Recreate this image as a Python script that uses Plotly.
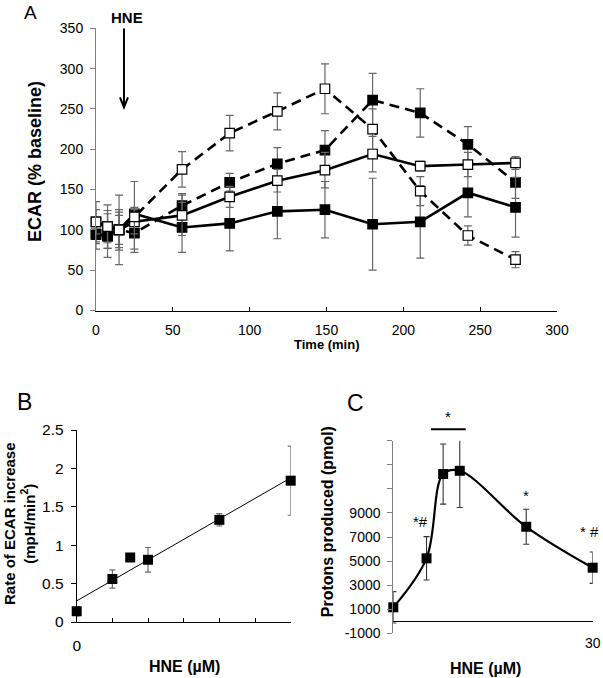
import numpy as np
import plotly.graph_objects as go

W, H = 603, 678
FONT = "Liberation Sans, Arial, sans-serif"

# ---------------- Panel A data ----------------
time_min = [0, 7.5, 15, 25, 56, 87, 118, 149, 180, 211, 242, 273]
a_filled_solid = [94, 93, 100, 120, 103, 108, 123, 125, 107, 110, 146, 128]
a_filled_solid_err = [18, 27, 25, 8, 31, 34, 34, 35, 57, 45, 30, 37]
a_open_solid = [110, 104, 100, 110, 118, 141, 161, 174, 194, 179, 181, 183]
a_open_solid_err = [15, 20, 22, 15, 25, 13, 14, 22, 22, 6, 15, 8]
a_filled_dashed = [95, 92, 100, 96, 130, 159, 182, 199, 261, 245, 206, 159]
a_filled_dashed_err = [12, 15, 18, 20, 15, 11, 20, 24, 33, 30, 22, 20]
a_open_dashed = [110, 104, 100, 116, 175, 220, 247, 275, 225, 148, 93, 63]
a_open_dashed_err = [25, 27, 43, 44, 22, 22, 23, 31, 25, 18, 12, 10]
a_xticks = [0, 50, 100, 150, 200, 250, 300]
a_yticks = [0, 50, 100, 150, 200, 250, 300, 350]
hne_time = 18.2

# ---------------- Panel B data ----------------
b_hne = [0, 5, 7.5, 10, 20, 30]
b_rate = [0.14, 0.56, 0.84, 0.81, 1.33, 1.84]
b_rate_err = [0.06, 0.12, 0, 0.16, 0.08, 0.45]
b_xticks = [0, 5, 10, 15, 20, 25, 30]
b_xticktext = ["0", " ", " ", " ", " ", " ", " "]
b_yticks = [0, 0.5, 1, 1.5, 2, 2.5]
b_yticktext = ["0", "0.5", "1", "1.5", "2", "2.5"]

# ---------------- Panel C data ----------------
c_hne = [0, 5, 7.5, 10, 20, 30]
c_protons = [1160, 5230, 12230, 12500, 7850, 4450]
c_protons_err = [1300, 1800, 2500, 3050, 1450, 1300]
c_yticks = [-1000, 1000, 3000, 5000, 7000, 9000, 11000, 13000, 15000]
c_yticktext = ["-1000", "1000", "3000", "5000", "7000", "9000", " ", " ", " "]
c_xticks = [30]
c_xticktext = ["30"]


def px(x):
    return x / W


def py(y):
    return 1 - y / H


fig = go.Figure()

# Panel A traces
ERR_A = "#666666"


def a_trace(vals, errs, filled, dashed):
    return go.Scatter(
        x=time_min, y=vals, mode="lines+markers", xaxis="x", yaxis="y",
        line=dict(color="black", width=2.6, dash="10px,6px" if dashed else "solid"),
        marker=dict(symbol="square", size=9.5,
                    color="black" if filled else "white",
                    line=dict(color="black", width=1.2)),
        error_y=dict(type="data", array=errs, visible=True, color=ERR_A,
                     thickness=1.2, width=4),
        cliponaxis=False, showlegend=False,
    )


fig.add_trace(a_trace(a_filled_dashed, a_filled_dashed_err, True, True))
fig.add_trace(a_trace(a_filled_solid, a_filled_solid_err, True, False))
fig.add_trace(a_trace(a_open_solid, a_open_solid_err, False, False))
fig.add_trace(a_trace(a_open_dashed, a_open_dashed_err, False, True))

# Panel B traces
slope, intercept = np.polyfit(b_hne, b_rate, 1)
trend_x = [min(b_hne), max(b_hne)]
fig.add_trace(go.Scatter(
    x=trend_x, y=[intercept + slope * v for v in trend_x], mode="lines",
    xaxis="x2", yaxis="y2", line=dict(color="black", width=1),
    cliponaxis=False, showlegend=False))
fig.add_trace(go.Scatter(
    x=b_hne, y=b_rate, mode="markers", xaxis="x2", yaxis="y2",
    marker=dict(symbol="square", size=10, color="black"),
    error_y=dict(type="data", array=b_rate_err, visible=True, color="#6e6e6e",
                 thickness=1.2, width=3),
    cliponaxis=False, showlegend=False))

# Panel C traces
fig.add_trace(go.Scatter(
    x=c_hne, y=c_protons, mode="lines+markers", xaxis="x3", yaxis="y3",
    line=dict(color="black", width=2.2, shape="spline", smoothing=1.0),
    marker=dict(symbol="square", size=10, color="black"),
    error_y=dict(type="data", array=c_protons_err, visible=True, color="#333333",
                 thickness=1.1, width=3),
    cliponaxis=False, showlegend=False))

tickfont = dict(family=FONT, size=14, color="black")

fig.update_layout(
    template="none",
    width=W, height=H, margin=dict(l=0, r=0, t=0, b=0, autoexpand=False),
    paper_bgcolor="white", plot_bgcolor="white",
    font=dict(family=FONT, color="black"),
    xaxis=dict(domain=[px(96), px(557)], range=[0, 300], tickvals=a_xticks,
               ticks="inside", ticklen=4, tickcolor="black", showline=True,
               linecolor="black", linewidth=1, showgrid=False, zeroline=False,
               tickfont=tickfont, ticklabelstandoff=7, anchor="y",
               automargin=False),
    yaxis=dict(domain=[py(310.5), py(28.3)], range=[0, 350], tickvals=a_yticks,
               ticks="outside", ticklen=5, tickcolor="#7f7f7f", showline=True,
               linecolor="#7f7f7f", linewidth=1, showgrid=False, zeroline=False,
               tickfont=tickfont, ticklabelstandoff=4, anchor="x",
               automargin=False),
    xaxis2=dict(domain=[px(76.7), px(290.7)], range=[0, 30], tickvals=b_xticks,
                ticktext=b_xticktext, ticks="inside", ticklen=4, tickcolor="black",
                showline=True, linecolor="black", linewidth=1, showgrid=False,
                zeroline=False, tickfont=dict(family=FONT, size=15.5, color="black"),
                ticklabelstandoff=9, anchor="y2", automargin=False),
    yaxis2=dict(domain=[py(622), py(430)], range=[0, 2.5], tickvals=b_yticks,
                ticktext=b_yticktext, ticks="outside", ticklen=5, tickcolor="black",
                showline=True, linecolor="black", linewidth=1, showgrid=False,
                zeroline=False, tickfont=dict(family=FONT, size=15.5, color="black"),
                ticklabelstandoff=4, anchor="x2", automargin=False),
    xaxis3=dict(domain=[px(393.3), px(592.7)], range=[0, 30], tickvals=c_xticks,
                ticktext=c_xticktext, ticks="", showline=False, showgrid=False,
                zeroline=False, tickfont=tickfont, anchor="y3", automargin=False),
    yaxis3=dict(domain=[py(633.3), py(440.7)], range=[-1000, 15000],
                tickvals=c_yticks, ticktext=c_yticktext, ticks="outside", ticklen=5,
                tickcolor="#7f7f7f", showline=True, linecolor="#7f7f7f", linewidth=1,
                showgrid=False, zeroline=True, zerolinecolor="black",
                zerolinewidth=1, tickfont=tickfont, ticklabelstandoff=4,
                anchor="x3", automargin=False),
)

# HNE arrow in panel A
ppx = 461 / 300.0      # px per minute
ppy = 282.2 / 350.0    # px per % unit
tip = 252
head_w = 4 / ppx
head_h = 10 / ppy
fig.add_shape(type="path", xref="x", yref="y",
              path=(f"M {hne_time},350 L {hne_time},{tip} "
                    f"M {hne_time - head_w},{tip + head_h} L {hne_time},{tip} "
                    f"L {hne_time + head_w},{tip + head_h}"),
              line=dict(color="black", width=2))

# Significance bar in panel C
fig.add_shape(type="line", xref="paper", yref="paper",
              x0=px(431), x1=px(465.7), y0=py(429.3), y1=py(429.3),
              line=dict(color="black", width=2))

annots = [
    dict(text="A", x=px(30.5), y=py(12), font=dict(size=19)),
    dict(text="B", x=px(24), y=py(402), font=dict(size=23)),
    dict(text="C", x=px(355.5), y=py(403), font=dict(size=23)),
    dict(text="<b>HNE</b>", x=px(126.7), y=py(17.5), font=dict(size=15)),
    dict(text="<b>ECAR (% baseline)</b>", x=px(35), y=py(162), textangle=-90,
         font=dict(size=18)),
    dict(text="<b>Time (min)</b>", x=px(326.5), y=py(344), font=dict(size=13)),
    dict(text="<b>Rate of ECAR increase<br>(mpH/min<sup>2</sup>)</b>", x=px(19),
         y=py(524), textangle=-90, font=dict(size=15)),
    dict(text="<b>HNE (µM)</b>", x=px(184), y=py(666.7), font=dict(size=16)),
    dict(text="<b>Protons produced (pmol)</b>", x=px(327.5), y=py(521.7),
         textangle=-90, font=dict(size=16)),
    dict(text="<b>HNE (µM)</b>", x=px(485), y=py(668), font=dict(size=16)),
    dict(text="*#", x=px(420.7), y=py(521.7), font=dict(size=15)),
    dict(text="*", x=px(448.3), y=py(416.7), font=dict(size=15)),
    dict(text="*", x=px(526), y=py(495), font=dict(size=15)),
    dict(text="* #", x=px(589.3), y=py(531.7), font=dict(size=15)),
]
for a in annots:
    f = dict(family=FONT, color="black")
    f.update(a.pop("font"))
    fig.add_annotation(xref="paper", yref="paper", showarrow=False,
                       xanchor="center", yanchor="middle", font=f, **a)

fig.write_html("out.html",
               config={"displayModeBar": False},
               post_script="document.body.style.margin='0';"
                           "document.body.style.padding='0';")
